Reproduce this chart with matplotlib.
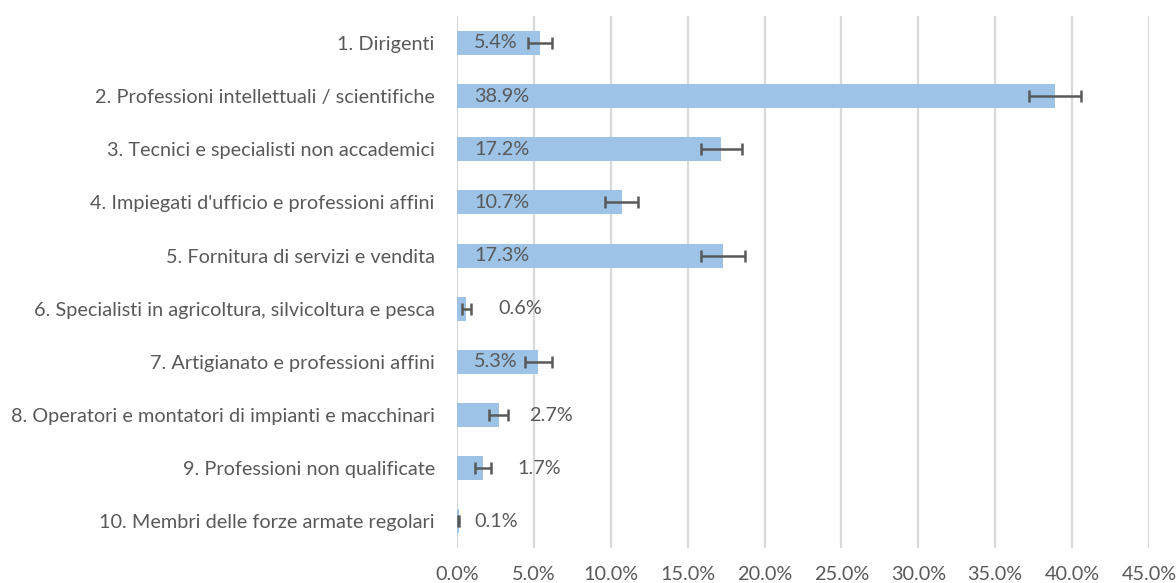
import matplotlib
matplotlib.use("Agg")
import matplotlib.pyplot as plt
from matplotlib.ticker import FuncFormatter

categories = [
    "1. Dirigenti",
    "2. Professioni intellettuali / scientifiche",
    "3. Tecnici e specialisti non accademici",
    "4. Impiegati d'ufficio e professioni affini",
    "5. Fornitura di servizi e vendita",
    "6. Specialisti in agricoltura, silvicoltura e pesca",
    "7. Artigianato e professioni affini",
    "8. Operatori e montatori di impianti e macchinari",
    "9. Professioni non qualificate",
    "10. Membri delle forze armate regolari",
]
values = [5.4, 38.9, 17.2, 10.7, 17.3, 0.6, 5.3, 2.7, 1.7, 0.1]
errors = [0.8, 1.7, 1.35, 1.1, 1.4, 0.3, 0.85, 0.6, 0.5, 0.05]
xticks = [0, 5, 10, 15, 20, 25, 30, 35, 40, 45]

FONT = "Lato"
TXT = "#595959"
BAR = "#9DC3E6"
FS = 14.3

fig = plt.figure(figsize=(11.76, 5.83), dpi=100)
ax = fig.add_axes([0.3886, 0.060, 0.977 - 0.3886, 0.972 - 0.060])

ypos = list(range(len(categories)))
ax.barh(ypos, values, height=0.45, color=BAR, zorder=2)
ax.errorbar(values, ypos, xerr=errors, fmt="none", ecolor="#595959",
            elinewidth=1.8, capsize=4.5, capthick=1.8, zorder=3)

# label placement: inside base for long bars, to the right for short ones
outside_offset = {0.6: 2.7, 2.7: 4.7, 1.7: 3.95, 0.1: 1.1}
for y, v in zip(ypos, values):
    if v >= 5:
        x = 1.1
    else:
        x = outside_offset.get(v, v + 2.0)
    ax.text(x, y, f"{v:.1f}%", va="center", ha="left", fontsize=FS,
            color=TXT, family=FONT, zorder=4)

ax.set_ylim(len(categories) - 0.5, -0.5)
ax.set_xlim(0, 45)
ax.set_xticks(xticks)
ax.xaxis.set_major_formatter(FuncFormatter(lambda v, p: f"{v:.1f}%"))
ax.set_yticks(ypos)
ax.set_yticklabels(categories)
ax.grid(axis="x", color="#D9D9D9", linewidth=1.6, zorder=0)
ax.set_axisbelow(True)
for s in ax.spines.values():
    s.set_visible(False)
ax.tick_params(axis="both", length=0, colors=TXT, labelsize=FS)
ax.tick_params(axis="x", pad=13)
ax.tick_params(axis="y", pad=16)
for lbl in ax.get_xticklabels() + ax.get_yticklabels():
    lbl.set_family(FONT)
    lbl.set_color(TXT)

fig.savefig("out.png", dpi=100)
